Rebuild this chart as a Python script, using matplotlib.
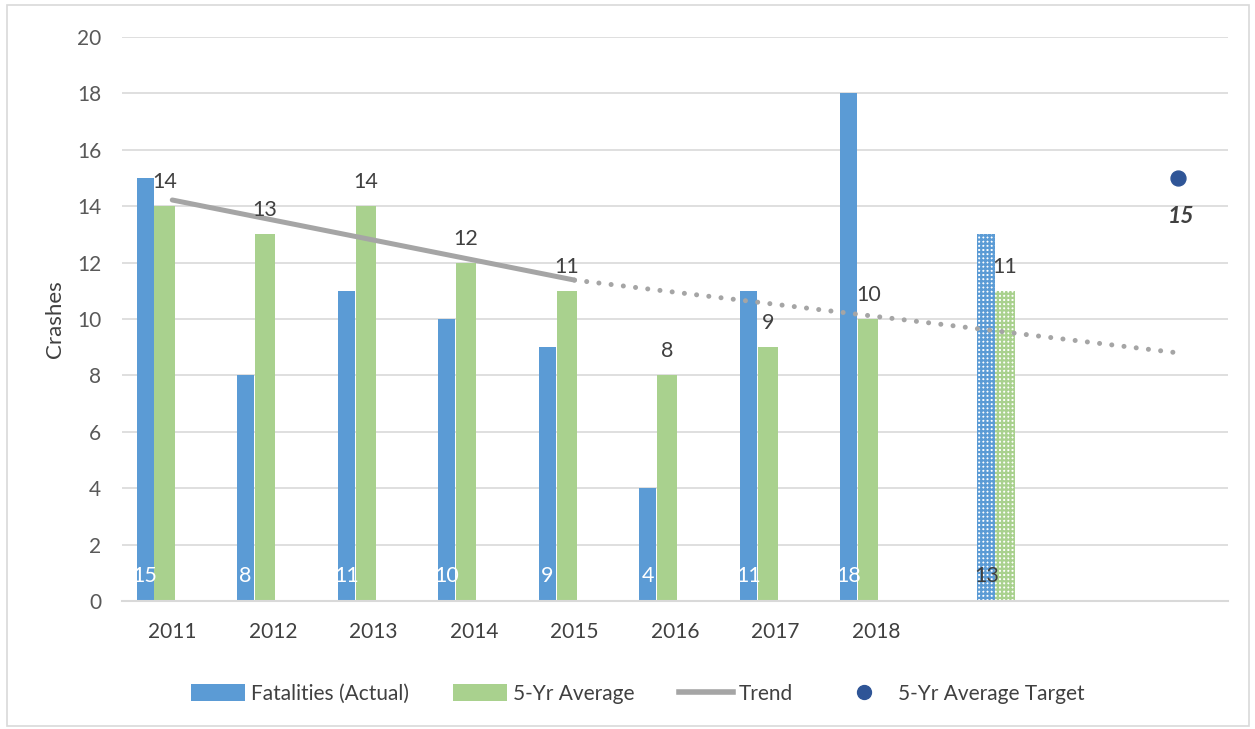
# Fatality crashes per year with 5-year average, trend and target
import matplotlib.pyplot as plt
from matplotlib.patches import Rectangle
from matplotlib.lines import Line2D
from matplotlib.patches import Patch

plt.rcParams['font.family'] = ['Lato', 'DejaVu Sans']

years = ["2011", "2012", "2013", "2014", "2015", "2016", "2017", "2018"]
fatalities = [15, 8, 11, 10, 9, 4, 11, 18]
five_yr_avg = [14, 13, 14, 12, 11, 8, 9, 10]

# projected values drawn as patterned bars in the 9th slot
proj_fatal = 13
proj_avg = 11
proj_slot = 8

# trend: fitted part, then projection out to the target year
trend_x = [0, 4]
trend_y = [14.22, 11.38]
proj_trend_x = [4, 10]
proj_trend_y = [11.38, 8.8]

target_slot = 10
target_value = 15

BLUE = "#5B9BD5"
GREEN = "#A9D18E"
GRAY = "#A5A5A5"
NAVY = "#2F5597"
TXT = "#404040"

fig = plt.figure(figsize=(12.55, 7.29), dpi=100)
ax = fig.add_axes([122 / 1255, 128 / 729, 1106 / 1255, 564 / 729])

x = list(range(len(years)))
xb = [i - 0.27 for i in x]
xg = [i - 0.077 for i in x]
ax.bar(xb, fatalities, width=0.17, color=BLUE, zorder=2)
ax.bar(xg, five_yr_avg, width=0.2, color=GREEN, zorder=2)

# patterned projection bars
plt.rcParams['hatch.linewidth'] = 1.6
ax.bar(proj_slot + 0.097, proj_fatal, width=0.18, facecolor="white",
       edgecolor=BLUE, hatch="++++", linewidth=0, zorder=2)
ax.bar(proj_slot + 0.28, proj_avg, width=0.2, facecolor="white",
       edgecolor=GREEN, hatch="++++", linewidth=0, zorder=2)

ax.plot(trend_x, trend_y, color=GRAY, lw=3.6, solid_capstyle="round", zorder=3)
ax.plot(proj_trend_x, proj_trend_y, color=GRAY, lw=3.6,
        linestyle=(0, (0.01, 2.45)), dash_capstyle="round", zorder=3)

ax.scatter([target_slot], [target_value], s=115, color=NAVY, zorder=4)
ax.text(target_slot + 0.03, target_value - 1.35, str(target_value), ha="center",
        va="center", fontsize=16.5, fontweight="bold", fontstyle="italic", color=TXT)

# data labels
LBL = 15.5
for xi, v in zip(xb, fatalities):
    ax.text(xi, 0.9, str(v), ha="center", va="center", fontsize=LBL, color="white", zorder=5)
for xi, v in zip(xg, five_yr_avg):
    ax.text(xi, v + 0.85, str(v), ha="center", va="center", fontsize=LBL, color=TXT, zorder=5)
ax.text(proj_slot + 0.097, 0.9, str(proj_fatal), ha="center", va="center",
        fontsize=LBL, color=TXT, zorder=5)
ax.text(proj_slot + 0.28, proj_avg + 0.85, str(proj_avg), ha="center", va="center",
        fontsize=LBL, color=TXT, zorder=5)

ax.set_xlim(-0.5, 10.5)
ax.set_ylim(0, 20)
ax.set_yticks(range(0, 21, 2))
ax.set_xticks(x)
ax.set_xticklabels(years)
ax.tick_params(axis="x", length=0, pad=15, labelsize=15, labelcolor=TXT)
ax.tick_params(axis="y", length=0, pad=15, labelsize=15, labelcolor="#595959")
ax.grid(axis="y", color="#D9D9D9", lw=1.2, zorder=0)
ax.set_axisbelow(True)
for s in ["top", "right", "left"]:
    ax.spines[s].set_visible(False)
ax.spines["bottom"].set_color("#D9D9D9")
ax.spines["bottom"].set_linewidth(1.5)
ax.set_ylabel("Crashes", fontsize=16, color=TXT, va="center")
ax.yaxis.set_label_coords(-0.0606, 0.5)

handles = [
    Patch(facecolor=BLUE, label="Fatalities (Actual)"),
    Patch(facecolor=GREEN, label="5-Yr Average"),
    Line2D([], [], color=GRAY, lw=4, label="Trend"),
    Line2D([], [], color=NAVY, marker="o", ms=10, lw=0, label="5-Yr Average Target"),
]
fig.legend(handles=handles, loc="center", bbox_to_anchor=(0.508, 0.048), ncol=4,
           frameon=False, fontsize=15, labelcolor=TXT, handlelength=2.6,
           handleheight=0.85, handletextpad=0.3, columnspacing=2.1)

fig.add_artist(Rectangle((7 / 1255, 3 / 729), 1242 / 1255, 721 / 729,
                         transform=fig.transFigure, fill=False,
                         edgecolor="#D9D9D9", lw=1.2))

fig.savefig("out.png", dpi=100)
